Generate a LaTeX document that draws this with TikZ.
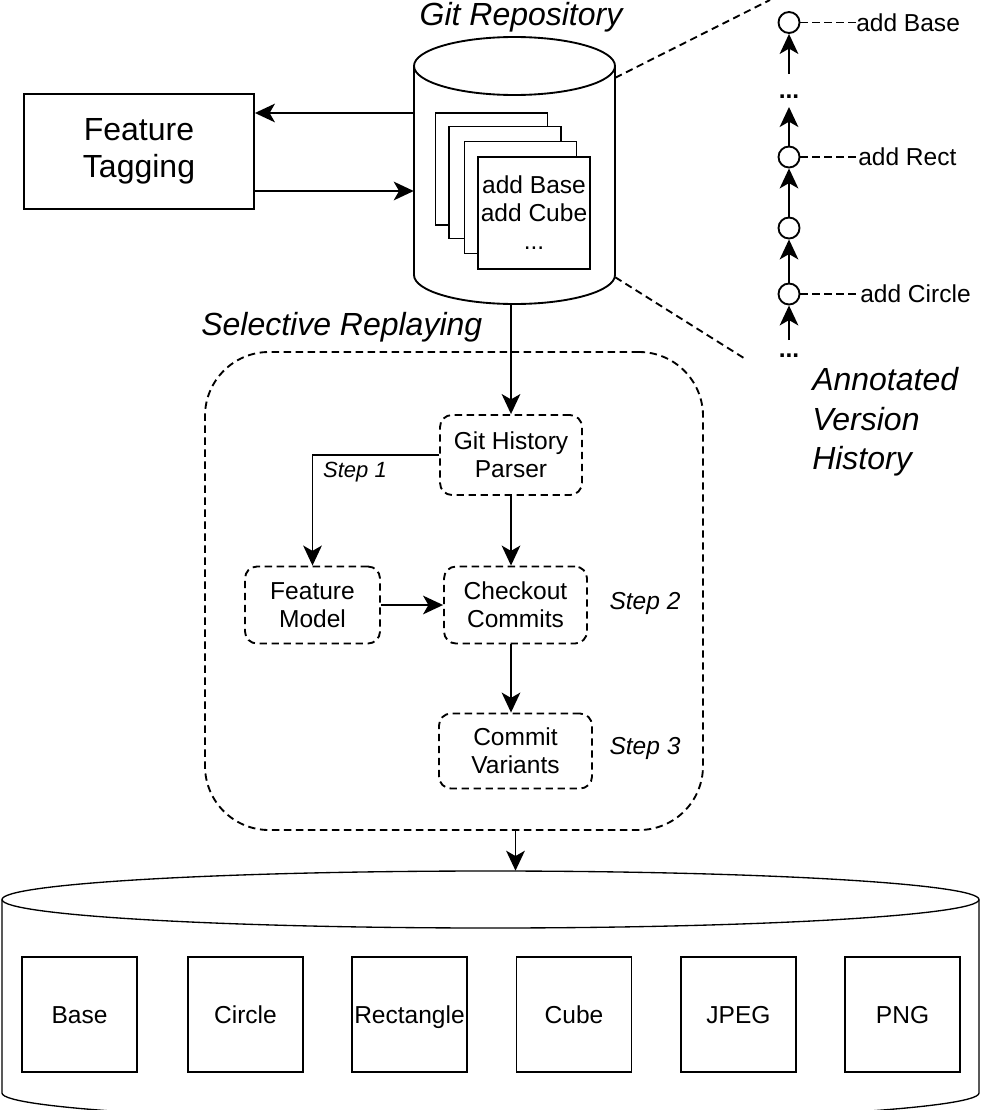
\documentclass[tikz,border=0pt]{standalone}
\usepackage{fontspec}
\setmainfont{Liberation Sans}
\usetikzlibrary{arrows.meta}
\newcommand\fsBig{\fontsize{24pt}{27.5pt}\selectfont}
\newcommand\fsMid{\fontsize{18.4pt}{21pt}\selectfont}
\newcommand\fsSmall{\fontsize{16.5pt}{19pt}\selectfont}
\tikzset{
  ln/.style={line width=1.4pt},
  dsh/.style={ln, dash pattern=on 5.5pt off 3.5pt},
  arr/.style={ln, -{Stealth[length=15pt,width=14pt,inset=4pt]}},
  harr/.style={ln, -{Stealth[length=15pt,width=14pt,inset=4pt]}},
  stepbox/.style={draw, dsh, rounded corners=9pt, align=center, font=\fsMid, inner sep=0},
  page/.style={draw, ln, fill=white, minimum width=84pt, minimum height=84pt, inner sep=0},
  commit/.style={circle, draw, ln, fill=white, minimum size=15.75pt, inner sep=0},
  variant/.style={draw, line width=1pt, minimum width=86.25pt, minimum height=86.25pt,
    inner sep=0, font=\fsMid, text height=13.2pt, text depth=0pt},
  note/.style={font=\fsBig\itshape, inner sep=0},
  steplabel/.style={font=\fsMid\itshape, inner sep=0},
  msg/.style={font=\fsMid, inner sep=0, anchor=west},
  dots/.style={font=\fsMid\bfseries, inner sep=0},
}
\begin{document}
\begin{tikzpicture}[x=0.75pt, y=-0.75pt]
\clip (0,0) rectangle (981,1110);

% ---------- Git repository (cylinder with stacked commits) ----------
\draw[ln, fill=white] (414,66) -- (414,275)
  arc[start angle=180, end angle=360, x radius=75.375pt, y radius=21.75pt] -- (615,66);
\draw[ln, fill=white] (514.5,66) ellipse[x radius=75.375pt, y radius=21.75pt];
\node[inner sep=0, minimum width=150.75pt, minimum height=200.25pt] (repo) at (514.5,170.5) {};
\node[page] (p1) at (491.5,169) {};
\node[page] (p2) at (505,182.5) {};
\node[page] (p3) at (520.5,197.5) {};
\node[page, align=center, font=\fsMid] (p4) at (534,213) {add Base\\add Cube\\...};
\node[note] (repotitle) at (521,17) {Git Repository};

% ---------- Feature tagging ----------
\node[draw, ln, minimum width=172.5pt, minimum height=86.25pt, align=center,
      font=\fontsize{24pt}{27.5pt}\selectfont] (ft) at (139,151.5) {Feature\\Tagging};
\coordinate (ftout) at ([yshift=28.875pt]ft.east);
\coordinate (ftin) at ([yshift=-29.625pt]ft.east);
\draw[arr] (repo.west |- ftout) -- (ftout);
\draw[arr] (ftin) -- (repo.west |- ftin);

% ---------- Annotated version history ----------
\node[commit] (c1) at (789,22.5) {};
\node[commit] (c2) at (789,157) {};
\node[commit] (c3) at (789,228) {};
\node[commit] (c4) at (789,294) {};
\node[dots] (dA) at (789,97) {...};
\node[dots] (dB) at (789,356) {...};
\node[msg] (m1) at (856,22.5) {add Base};
\node[msg] (m2) at (858,157) {add Rect};
\node[msg] (m4) at (860,294) {add Circle};
\draw[harr] ([yshift=17.25pt]dA.center) -- (c1);
\draw[harr] (c2) -- ([yshift=-7.5pt]dA.center);
\draw[harr] (c3) -- (c2);
\draw[harr] (c4) -- (c3);
\draw[harr] ([yshift=12pt]dB.center) -- (c4);
\draw[dsh] (c1.east) -- (m1.west);
\draw[dsh] (c2.east) -- (m2.west);
\draw[dsh] (c4.east) -- (m4.west);
\node[note, align=left, anchor=west, font=\fontsize{24pt}{29.6pt}\selectfont\itshape]
  (avh) at (812,422) {Annotated\\Version\\History};

% zoom lines from the repository to the history
\coordinate (zu) at (770,0);
\coordinate (zl) at (747,360);
\draw[dsh] ([yshift=-30.75pt]repo.north east) -- (zu);
\draw[dsh] ([yshift=20.25pt]repo.south east) -- (zl);

% ---------- Selective replaying ----------
\node[draw, dsh, rounded corners=48pt, minimum width=373.5pt, minimum height=358.5pt,
      inner sep=0] (region) at (454,591) {};
\node[note, anchor=west] (srtitle) at (201,327) {Selective Replaying};

\node[stepbox, minimum width=106.5pt, minimum height=60pt] (ghp) at (511,455) {Git History\\Parser};
\node[stepbox, minimum width=101.25pt, minimum height=57.75pt] (fm) at (312.5,605) {Feature\\Model};
\node[stepbox, minimum width=107.25pt, minimum height=57.75pt] (cc) at (515.5,605) {Checkout\\Commits};
\node[stepbox, minimum width=114.75pt, minimum height=56.25pt] (cv) at (515.5,751) {Commit\\Variants};

\node[steplabel, font=\fsSmall\itshape] (s1) at (355,472) {Step 1};
\node[steplabel] (s2) at (645,603) {Step 2};
\node[steplabel] (s3) at (645,748) {Step 3};

\draw[arr] (ghp.north |- repo.south) -- (ghp.north);
\draw[arr] (ghp.west) -| (fm.north);
\draw[arr] (ghp.south) -- (ghp.south |- cc.north);
\draw[arr] (fm.east) -- (cc.west);
\draw[arr] (ghp.south |- cc.south) -- (ghp.south |- cv.north);

% ---------- Variant store ----------
\draw[line width=1pt, fill=white] (2,899.5) -- (2,1093)
  arc[start angle=180, end angle=360, x radius=366.375pt, y radius=21.375pt] -- (979,899.5);
\draw[line width=1pt, fill=white] (490.5,899.5) ellipse[x radius=366.375pt, y radius=21.375pt];
\node[inner sep=0, minimum width=732.75pt, minimum height=187.5pt] (store) at (490.5,996) {};
\draw[arr] (cc.south |- region.south) -- (cc.south |- store.north);

\node[variant] (vBase) at (79.5,1014.5) {Base};
\node[variant] (vCircle) at (245.5,1014.5) {Circle};
\node[variant] (vRect) at (409.5,1014.5) {Rectangle};
\node[variant] (vCube) at (574,1014.5) {Cube};
\node[variant] (vJpeg) at (738.5,1014.5) {JPEG};
\node[variant] (vPng) at (902.5,1014.5) {PNG};
\end{tikzpicture}
\end{document}
